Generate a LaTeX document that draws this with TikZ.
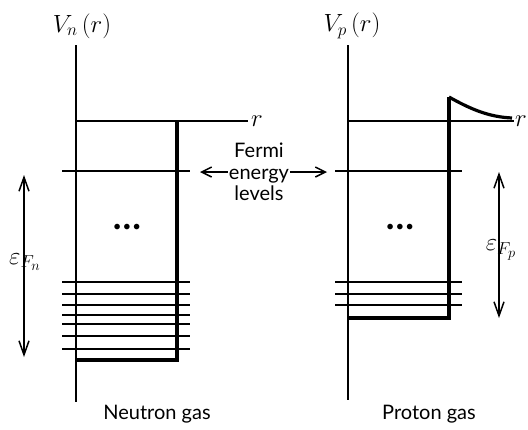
\documentclass[tikz,border=0pt]{standalone}
\usepackage{fontspec}
\newfontfamily\labelfont{Lato}
\usetikzlibrary{arrows.meta}
\begin{document}
\begin{tikzpicture}[x=1pt,y=-1pt,
  thinline/.style={line width=1.5pt},
  thickline/.style={line width=3.2pt},
  barb/.style={line width=1.5pt,-{Straight Barb[length=10pt,width=10pt]}},
  dblbarb/.style={line width=1.5pt,{Straight Barb[length=14pt,width=10pt]}-{Straight Barb[length=14pt,width=10pt]}},
  txt/.style={font=\labelfont\fontsize{20}{21.5}\selectfont, inner sep=0pt},
  mth/.style={font=\fontsize{23}{26}\selectfont, inner sep=0pt},
  epsnode/.style={font=\fontsize{27}{30}\selectfont, inner sep=0pt},
  dotsnode/.style={font=\labelfont\fontsize{15}{15}\selectfont, inner sep=0pt}]
\useasboundingbox (0,0) rectangle (528,429);

% ---------------- Neutron gas ----------------
\coordinate (nTop) at (76,45);
\coordinate (nBot) at (76,402);
\coordinate (nO) at (76,121);
\coordinate (nAxEnd) at (248,121);
\coordinate (nWallTop) at (177,121);
\coordinate (nWallBot) at (177,360);
\coordinate (nFloorL) at (76,360);
\draw[thinline] (nTop) -- (nBot);
\draw[thinline] (nO) -- (nAxEnd);
\node[mth, anchor=west] (nr) at (251,121) {$r$};
\node[mth] (nV) at (82,26) {$V_n\,(r)$};
\draw[thickline] (nWallTop) -- (nWallBot) -- (nFloorL);
\coordinate (nFL) at (62,171);
\coordinate (nFR) at (190,171);
\draw[thinline] (nFL) -- (nFR);
\foreach \y in {282,294,305,315,324,336,349}{
  \draw[thinline] (62,\y) -- (190,\y);
}
\node[dotsnode] (ndots) at (127,228) {•\kern1pt•\kern1pt•};
\coordinate (nArT) at (24,175);
\coordinate (nArB) at (24,357);
\draw[dblbarb] (nArT) -- (nArB);
\node[epsnode] (neps) at (25,262) {$\varepsilon_{F_n}$};
\node[txt] (ngas) at (157,414) {Neutron gas};

% ---------------- Proton gas ----------------
\coordinate (pTop) at (348,45);
\coordinate (pBot) at (348,400);
\coordinate (pO) at (348,121);
\coordinate (pAxEnd) at (514,121);
\coordinate (pWallTop) at (449,97);
\coordinate (pWallBot) at (449,318);
\coordinate (pFloorL) at (348,318);
\coordinate (pCurveEnd) at (512,118);
\draw[thinline] (pTop) -- (pBot);
\draw[thinline] (pO) -- (pAxEnd);
\node[mth, anchor=east] (pr) at (527,121) {$r$};
\node[mth] (pV) at (352,26) {$V_p\,(r)$};
\draw[thickline] (pWallTop) -- (pWallBot) -- (pFloorL);
\draw[thickline] (pWallTop) .. controls (472,110) and (490,117) .. (pCurveEnd);
\coordinate (pFL) at (335,171);
\coordinate (pFR) at (462,171);
\draw[thinline] (pFL) -- (pFR);
\foreach \y in {282,294,305}{
  \draw[thinline] (335,\y) -- (462,\y);
}
\node[dotsnode] (pdots) at (400,228) {•\kern1pt•\kern1pt•};
\coordinate (pArT) at (499,172);
\coordinate (pArB) at (499,318);
\draw[dblbarb] (pArT) -- (pArB);
\node[epsnode] (peps) at (501,250) {$\varepsilon_{F_p}$};
\node[txt] (pgas) at (429,414) {Proton gas};

% ---------------- Fermi label ----------------
\node[txt, align=center] (fermi) at (259,172) {Fermi\\energy\\levels};
\coordinate (fLtip) at (200,172);
\coordinate (fRtip) at (327,172);
\draw[barb] (fermi.west |- fLtip) ++(-1,0) coordinate (fLs) -- (fLtip);
\draw[barb] (fermi.east |- fRtip) ++(1,0) coordinate (fRs) -- (fRtip);
\end{tikzpicture}
\end{document}
